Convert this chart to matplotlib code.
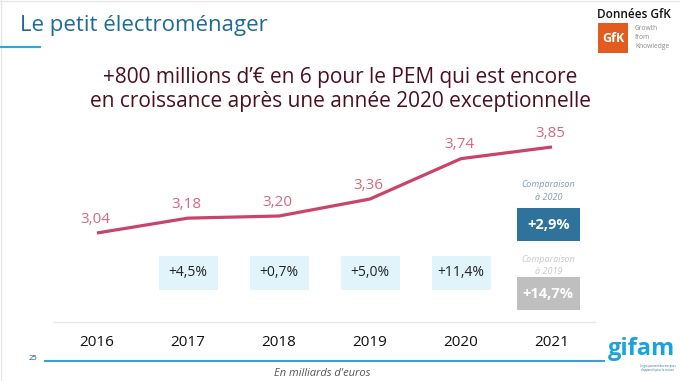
import matplotlib
matplotlib.use('Agg')
import matplotlib.pyplot as plt
from matplotlib.patches import Rectangle
import matplotlib.transforms as mtransforms

# Data (milliards d'euros)
years = ['2016', '2017', '2018', '2019', '2020', '2021']
values = [3.04, 3.18, 3.20, 3.36, 3.74, 3.85]
value_labels = ['3,04', '3,18', '3,20', '3,36', '3,74', '3,85']
growth_labels = ['+4,5%', '+0,7%', '+5,0%', '+11,4%']   # 2017..2020
cmp_2020 = '+2,9%'
cmp_2019 = '+14,7%'

W, H = 680, 381
FONT = 'Open Sans'
plt.rcParams['font.family'] = [FONT, 'DejaVu Sans']

TITLE_C = '#1f6b93'
SUB_C = '#4b0f1f'
LINE_C = '#c9436b'
LAB_C = '#d7687f'
BOX_C = '#e1f4fc'
BLUE_BOX = '#2f729b'
GRAY_BOX = '#bfbfbf'


def fx(px):
    return px / W


def fy(py):
    return 1 - py / H


fig = plt.figure(figsize=(W / 100, H / 100), dpi=100, facecolor='white')
ax = fig.add_axes([0, 0, 1, 1])
ax.axis('off')
x = list(range(len(years)))
# map index -> pixel: 0 -> 97, step 91 ; value -> pixel: 3.04 -> 233, 106.2 px/unit
ax.set_xlim(-97 / 91, (W - 97) / 91)
ax.set_ylim(3.04 - (H - 233) / 106.2, 3.04 + 233 / 106.2)

# slide border
fig.add_artist(plt.Line2D([0, 1], [fy(0.5), fy(0.5)], color='#e6e6e6', lw=1))
fig.add_artist(plt.Line2D([fx(0.5), fx(0.5)], [0, 1], color='#e6e6e6', lw=1))

# header
fig.text(fx(20), fy(25), 'Le petit électroménager', color=TITLE_C, fontsize=16,
         ha='left', va='center')
fig.add_artist(plt.Line2D([fx(0), fx(40)], [fy(47), fy(47)], color='#29a8e0', lw=1.5))

fig.text(fx(634), fy(14), 'Données GfK', color='#111111', fontsize=8.5,
         fontweight='semibold', ha='center', va='center')
fig.add_artist(Rectangle((fx(598), fy(53)), fx(30), fy(23) - fy(53),
                         transform=fig.transFigure, color='#e35b1e', lw=0))
fig.text(fx(613), fy(39), 'GfK', color='white', fontsize=9, fontweight='bold',
         ha='center', va='center')
for i, w in enumerate(['Growth', 'from', 'Knowledge']):
    fig.text(fx(635), fy(29 + 8.5 * i), w, color='#8a8a8a', fontsize=4.8,
             ha='left', va='center')

fig.text(0.5, fy(77), '+800 millions d\u2019€ en 6 pour le PEM qui est encore',
         color=SUB_C, fontsize=15, ha='center', va='center')
fig.text(0.5, fy(101), 'en croissance après une année 2020 exceptionnelle',
         color=SUB_C, fontsize=15, ha='center', va='center')

# line
ax.plot(x, values, color=LINE_C, lw=2.3, solid_capstyle='butt')
for xi, v, lab in zip(x, values, value_labels):
    ax.annotate(lab, (xi, v), xytext=(-1, 10), textcoords='offset points',
                ha='center', va='center', color=LAB_C, fontsize=11)

# growth boxes (blended: x in data, y in axes fraction)
tr = mtransforms.blended_transform_factory(ax.transData, ax.transAxes)
bw = 59 / 91
for i, g in enumerate(growth_labels):
    xi = x[i + 1]
    ax.add_patch(Rectangle((xi - bw / 2, fy(290)), bw, fy(256) - fy(290),
                           transform=tr, color=BOX_C, lw=0))
    ax.text(xi, fy(273), g, transform=tr, ha='center', va='center',
            color='#222222', fontsize=10)

# comparison boxes for 2021
cw = 63 / 91
xc = x[-1] - 0.04
ax.text(xc, fy(185), 'Comparaison', transform=tr, ha='center', va='center',
        color='#7f9fb8', fontsize=6.5, style='italic')
ax.text(xc, fy(197), 'à 2020', transform=tr, ha='center', va='center',
        color='#7f9fb8', fontsize=6.5, style='italic')
ax.add_patch(Rectangle((xc - cw / 2, fy(241)), cw, fy(208) - fy(241),
                       transform=tr, color=BLUE_BOX, lw=0))
ax.text(xc, fy(225), cmp_2020, transform=tr, ha='center', va='center',
        color='white', fontsize=10.5, fontweight='bold')
ax.text(xc, fy(259), 'Comparaison', transform=tr, ha='center', va='center',
        color='#c8c8c8', fontsize=6.5, style='italic')
ax.text(xc, fy(271), 'à 2019', transform=tr, ha='center', va='center',
        color='#c8c8c8', fontsize=6.5, style='italic')
ax.add_patch(Rectangle((xc - cw / 2, fy(310)), cw, fy(277) - fy(310),
                       transform=tr, color=GRAY_BOX, lw=0))
ax.text(xc, fy(294), cmp_2019, transform=tr, ha='center', va='center',
        color='white', fontsize=10.5, fontweight='bold')

# axis area
fig.add_artist(plt.Line2D([fx(53), fx(595)], [fy(322), fy(322)], color='#e8e8e8', lw=1))
for xi, yr in zip(x, years):
    ax.text(xi, fy(343), yr, transform=tr, ha='center', va='center',
            color='#111111', fontsize=11)

# footer
fig.add_artist(plt.Line2D([fx(45), fx(604)], [fy(361), fy(361)], color='#3aa0d4', lw=1.5))
fig.text(fx(33), fy(359), '25', color='#1f4e79', fontsize=5.5, ha='center', va='center')
fig.text(fx(322), fy(373), "En milliards d'euros", color='#555555', fontsize=8,
         style='italic', ha='center', va='center')
fig.text(fx(641), fy(349), 'gifam', color='#1aa3dc', fontsize=17, fontweight='bold',
         ha='center', va='center')
fig.text(fx(658), fy(368), 'Le groupement des marques\nd\u2019appareils pour la maison',
         color='#1a6a9a', fontsize=1.9, ha='center', va='center', linespacing=1.1)

fig.savefig('out.png', dpi=100, facecolor='white')
